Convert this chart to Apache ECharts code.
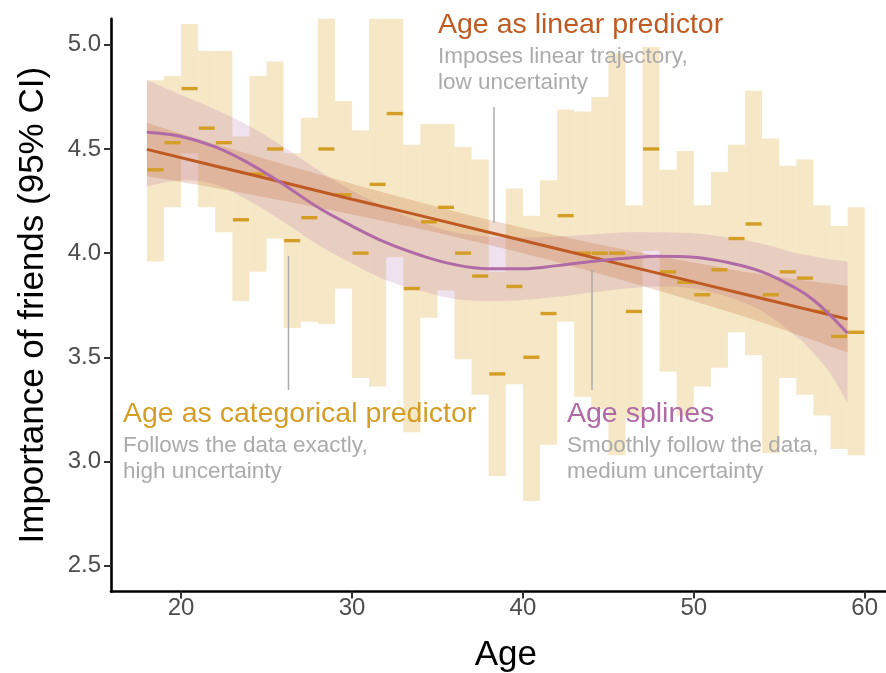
<!DOCTYPE html>
<html>
<head>
<meta charset="utf-8">
<script src="https://cdn.jsdelivr.net/npm/echarts@6/dist/echarts.min.js"></script>
<style>
  html, body { margin: 0; padding: 0; background: #fff; }
  #chart { width: 886px; height: 673px; }
</style>
</head>
<body>
<div id="chart"></div>
<script>
// categorical model: one mean and 95% CI per year of age
var ages = [18, 19, 20, 21, 22, 23, 24, 25, 26, 27, 28, 29, 30, 31, 32, 33, 34, 35, 36, 37, 38,
            39, 40, 41, 42, 43, 44, 45, 46, 47, 48, 49, 50, 51, 52, 53, 54, 55, 56, 57, 58, 59];
var catMean = [4.40, 4.53, 4.79, 4.60, 4.53, 4.16, 4.38, 4.50, 4.06, 4.17, 4.50, 4.28, 4.00, 4.33,
               4.67, 3.83, 4.15, 4.22, 4.00, 3.89, 3.42, 3.84, 3.50, 3.71, 4.18, 4.00, 4.00, 4.00,
               3.72, 4.50, 3.91, 3.86, 3.80, 3.92, 4.07, 4.14, 3.80, 3.91, 3.88, 3.72, 3.60, 3.62];
var catLower = [3.96, 4.22, 4.48, 4.22, 4.10, 3.77, 3.91, 4.07, 3.64, 3.67, 3.66, 3.83, 3.40, 3.36,
                3.98, 3.14, 3.69, 3.82, 3.49, 3.32, 2.93, 3.37, 2.81, 3.08, 3.67, 3.31, 3.25, 3.03,
                3.21, 4.01, 3.43, 3.22, 3.36, 3.45, 3.62, 3.51, 3.04, 3.40, 3.32, 3.22, 3.06, 3.03];
var catUpper = [4.83, 4.85, 5.10, 4.97, 4.97, 4.56, 4.85, 4.92, 4.48, 4.65, 5.34, 4.73, 4.59, 5.30,
                5.35, 4.52, 4.62, 4.62, 4.51, 4.45, 3.91, 4.31, 4.18, 4.35, 4.69, 4.68, 4.75, 4.96,
                4.23, 4.99, 4.40, 4.49, 4.23, 4.39, 4.52, 4.78, 4.55, 4.42, 4.45, 4.23, 4.13, 4.22];

// linear model
var linAges = [18, 22, 26, 30, 34, 38, 42, 46, 50, 54, 59];
var linFit = [4.498, 4.418, 4.339, 4.259, 4.180, 4.100, 4.021, 3.941, 3.862, 3.782, 3.683];
var linLower = [4.370, 4.313, 4.251, 4.185, 4.116, 4.040, 3.957, 3.866, 3.769, 3.667, 3.523];
var linUpper = [4.626, 4.523, 4.427, 4.333, 4.244, 4.160, 4.085, 4.016, 3.955, 3.897, 3.843];

// spline model
var splAges = [18, 20, 22, 24, 26, 28, 30, 32, 34, 36, 38, 40, 42, 44, 46, 48, 50, 52, 54, 56, 57, 58, 59];
var splFit = [4.58, 4.56, 4.51, 4.43, 4.33, 4.22, 4.13, 4.05, 3.99, 3.945, 3.925, 3.925, 3.94, 3.96,
              3.975, 3.985, 3.98, 3.955, 3.91, 3.83, 3.775, 3.70, 3.615];
var splLower = [4.32, 4.35, 4.33, 4.25, 4.15, 4.04, 3.95, 3.87, 3.82, 3.78, 3.77, 3.775, 3.79, 3.81,
                3.83, 3.84, 3.83, 3.79, 3.72, 3.60, 3.52, 3.42, 3.28];
var splUpper = [4.83, 4.76, 4.69, 4.61, 4.51, 4.40, 4.30, 4.22, 4.15, 4.10, 4.08, 4.075, 4.08, 4.09,
                4.10, 4.10, 4.095, 4.075, 4.045, 4.00, 3.985, 3.97, 3.96];

var xTicks = [20, 30, 40, 50, 60];
var yTicks = [2.5, 3.0, 3.5, 4.0, 4.5, 5.0];

var GOLD = '#D49E26', RUST = '#BF5A22', MAUVE = '#B06AA6', NOTE = '#ABABAB';
var FONT = '"Liberation Sans", Arial, Helvetica, sans-serif';

function pairs(xs, ys) {
    return xs.map(function(x, i) { return [x, ys[i]]; });
}

var catRows = ages.map(function(a, i) { return [a, catLower[i], catUpper[i], catMean[i]]; });

// smooth an edge of pixel points (catmull-rom) so the ribbon edges look like the fitted curves
function smoothEdge(pts) {
    var out = [pts[0]];
    for (var i = 0; i < pts.length - 1; i++) {
        var p0 = pts[Math.max(i - 1, 0)], p1 = pts[i], p2 = pts[i + 1], p3 = pts[Math.min(i + 2, pts.length - 1)];
        var c1 = [p1[0] + (p2[0] - p0[0]) / 6, p1[1] + (p2[1] - p0[1]) / 6];
        var c2 = [p2[0] - (p3[0] - p1[0]) / 6, p2[1] - (p3[1] - p1[1]) / 6];
        for (var k = 1; k <= 8; k++) {
            var t = k / 8, u = 1 - t;
            out.push([
                u * u * u * p1[0] + 3 * u * u * t * c1[0] + 3 * u * t * t * c2[0] + t * t * t * p2[0],
                u * u * u * p1[1] + 3 * u * u * t * c1[1] + 3 * u * t * t * c2[1] + t * t * t * p2[1]
            ]);
        }
    }
    return out;
}

// ribbon drawn as one closed shape: upper edge left->right, lower edge right->left
function ribbon(xs, lo, hi, fill, z) {
    return {
        type: 'custom',
        z: z,
        clip: true,
        data: [[xs[0], lo[0]]],
        renderItem: function(params, api) {
            var top = smoothEdge(xs.map(function(x, i) { return api.coord([x, hi[i]]); }));
            var bot = smoothEdge(xs.map(function(x, i) { return api.coord([x, lo[i]]); })).reverse();
            return {
                type: 'polygon',
                shape: { points: top.concat(bot) },
                style: { fill: fill }
            };
        }
    };
}

var myChart = echarts.init(document.getElementById('chart'));

var option = {
    animation: false,
    textStyle: { fontFamily: FONT },
    grid: { left: 111, top: 18.8, width: 789.6, height: 572.8, containLabel: false, outerBoundsMode: 'none' },
    xAxis: {
        type: 'value',
        min: 15.9,
        max: 62.1,
        name: 'Age',
        nameLocation: 'middle',
        nameGap: 46,
        nameTextStyle: { fontSize: 35, color: '#000', fontFamily: FONT },
        axisLine: { show: true, onZero: false, lineStyle: { color: '#000', width: 2.6 } },
        axisTick: { show: true, length: 7, customValues: xTicks, lineStyle: { color: '#333', width: 2 } },
        axisLabel: { customValues: xTicks, fontSize: 24, color: '#4D4D4D', margin: 5, fontFamily: FONT },
        splitLine: { show: false }
    },
    yAxis: {
        type: 'value',
        min: 2.375,
        max: 5.125,
        name: 'Importance of friends (95% CI)',
        nameLocation: 'middle',
        nameGap: 60,
        nameTextStyle: { fontSize: 35, color: '#000', fontFamily: FONT },
        axisLine: { show: true, onZero: false, lineStyle: { color: '#000', width: 2.6 } },
        axisTick: { show: true, length: 7, customValues: yTicks, lineStyle: { color: '#333', width: 2 } },
        axisLabel: {
            customValues: yTicks, fontSize: 24, color: '#4D4D4D', margin: 10, fontFamily: FONT,
            formatter: function(v) { return v.toFixed(1); }
        },
        splitLine: { show: false }
    },
    series: [{
        // CI boxes of the categorical model
        name: 'catCI',
        type: 'custom',
        clip: true,
        z: 1,
        data: catRows,
        renderItem: function(params, api) {
            var p0 = api.coord([api.value(0), api.value(2)]);
            var p1 = api.coord([api.value(0) + 1, api.value(1)]);
            return {
                type: 'rect',
                shape: { x: p0[0], y: p0[1], width: p1[0] - p0[0], height: p1[1] - p0[1] },
                style: { fill: 'rgba(218,165,32,0.25)' }
            };
        }
    },
    ribbon(splAges, splLower, splUpper, 'rgba(176,104,164,0.2)', 2),
    ribbon(linAges, linLower, linUpper, 'rgba(191,90,34,0.22)', 3),
    {
        // category means
        name: 'catMean',
        type: 'custom',
        z: 4,
        data: catRows,
        renderItem: function(params, api) {
            var a = api.coord([api.value(0) + 0.03, api.value(3)]);
            var b = api.coord([api.value(0) + 0.97, api.value(3)]);
            return {
                type: 'line',
                shape: { x1: a[0], y1: a[1], x2: b[0], y2: b[1] },
                style: { stroke: GOLD, lineWidth: 3.4 }
            };
        }
    }, {
        name: 'linear',
        type: 'line',
        z: 5,
        symbol: 'none',
        lineStyle: { color: RUST, width: 3 },
        data: pairs(linAges, linFit)
    }, {
        name: 'spline',
        type: 'line',
        z: 6,
        smooth: 0.4,
        symbol: 'none',
        lineStyle: { color: MAUVE, width: 3 },
        data: pairs(splAges, splFit)
    }],
    graphic: [
        { type: 'line', z: 50, shape: { x1: 494, y1: 107, x2: 494, y2: 223 }, style: { stroke: NOTE, lineWidth: 1.5 } },
        { type: 'line', z: 50, shape: { x1: 288.5, y1: 256, x2: 288.5, y2: 390 }, style: { stroke: NOTE, lineWidth: 1.5 } },
        { type: 'line', z: 50, shape: { x1: 592, y1: 270, x2: 592, y2: 390 }, style: { stroke: NOTE, lineWidth: 1.5 } },

        { type: 'text', z: 50, x: 438, y: 25, style: { text: 'Age as linear predictor', fill: RUST, font: '28.5px ' + FONT, verticalAlign: 'middle', textVerticalAlign: 'middle' } },
        { type: 'text', z: 50, x: 438, y: 57, style: { text: 'Imposes linear trajectory,', fill: NOTE, font: '22.5px ' + FONT, verticalAlign: 'middle', textVerticalAlign: 'middle' } },
        { type: 'text', z: 50, x: 438, y: 83, style: { text: 'low uncertainty', fill: NOTE, font: '22.5px ' + FONT, verticalAlign: 'middle', textVerticalAlign: 'middle' } },

        { type: 'text', z: 50, x: 123, y: 414, style: { text: 'Age as categorical predictor', fill: GOLD, font: '28.5px ' + FONT, verticalAlign: 'middle', textVerticalAlign: 'middle' } },
        { type: 'text', z: 50, x: 123, y: 446, style: { text: 'Follows the data exactly,', fill: NOTE, font: '22.5px ' + FONT, verticalAlign: 'middle', textVerticalAlign: 'middle' } },
        { type: 'text', z: 50, x: 123, y: 472, style: { text: 'high uncertainty', fill: NOTE, font: '22.5px ' + FONT, verticalAlign: 'middle', textVerticalAlign: 'middle' } },

        { type: 'text', z: 50, x: 567, y: 414, style: { text: 'Age splines', fill: MAUVE, font: '28.5px ' + FONT, verticalAlign: 'middle', textVerticalAlign: 'middle' } },
        { type: 'text', z: 50, x: 567, y: 446, style: { text: 'Smoothly follow the data,', fill: NOTE, font: '22.5px ' + FONT, verticalAlign: 'middle', textVerticalAlign: 'middle' } },
        { type: 'text', z: 50, x: 567, y: 472, style: { text: 'medium uncertainty', fill: NOTE, font: '22.5px ' + FONT, verticalAlign: 'middle', textVerticalAlign: 'middle' } }
    ]
};

myChart.setOption(option);
</script>
</body>
</html>
